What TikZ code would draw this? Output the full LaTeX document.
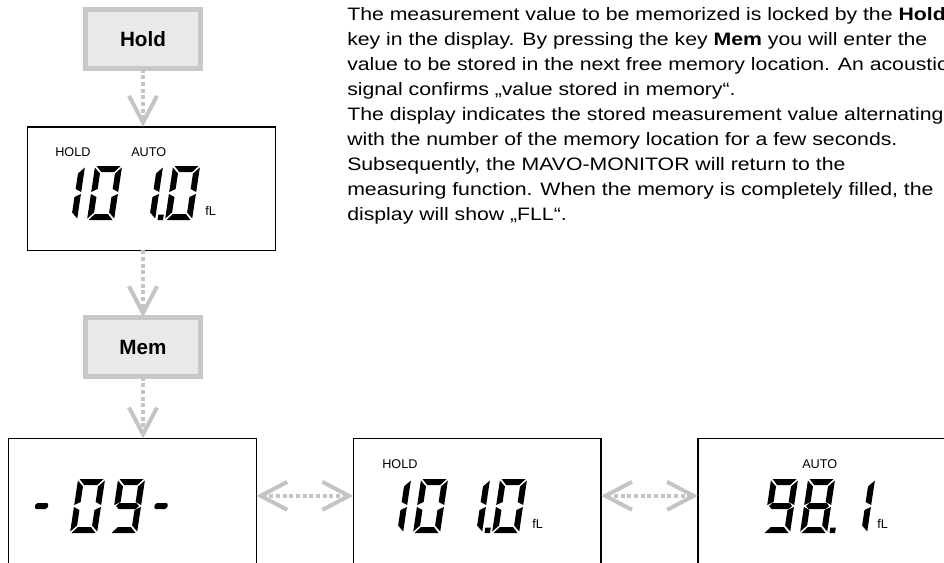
\documentclass[tikz,border=0pt]{standalone}
\usepackage{fontspec}
\setmainfont{Liberation Sans}
\newfontfamily\notefont[FakeStretch=1.18]{Liberation Sans}
\usetikzlibrary{arrows.meta,positioning}
\definecolor{keyfill}{HTML}{E9E9E9}
\definecolor{keyline}{HTML}{C8C8C8}
\definecolor{flowgray}{HTML}{C4C4C4}

\newcommand\lcdA{\fill (1.5,54) -- (25.5,54) -- (20,48) -- (7,48) -- cycle;}
\newcommand\lcdB{\fill (27,52.5) -- (21,46.5) -- (21,31) -- (27,28) -- cycle;}
\newcommand\lcdC{\fill (27,1.5) -- (21,7.5) -- (21,23) -- (27,26) -- cycle;}
\newcommand\lcdD{\fill (1.5,0) -- (25.5,0) -- (20,6) -- (7,6) -- cycle;}
\newcommand\lcdE{\fill (0,1.5) -- (6,7.5) -- (6,23) -- (0,26) -- cycle;}
\newcommand\lcdF{\fill (0,52.5) -- (6,46.5) -- (6,31) -- (0,28) -- cycle;}
\newcommand\lcdG{\fill (2,27) -- (5,30) -- (22,30) -- (25,27) -- (22,24) -- (5,24) -- cycle;}
\newcommand\lcdH{\fill[rounded corners=1.5pt] (7,24) rectangle (20,30);}
\newcommand\lcdP{\fill (29.5,0) rectangle (35,5.5);}
\newcommand\lcddigit[2]{%
  \begin{scope}[shift={#1},yscale=-1,xslant=-0.15]
    \foreach \s in {#2}{\csname lcd\s\endcsname}
  \end{scope}}

\begin{document}
\begin{tikzpicture}[x=0.75pt,y=-0.75pt,
  node distance=72.75pt,
  keybox/.style={draw=keyline,fill=keyfill,line width=3.4pt,minimum width=86.6pt,
                 minimum height=44.6pt,inner sep=0pt,outer sep=0pt,
                 font=\fontsize{15.5pt}{18pt}\selectfont\bfseries},
  lcdbox/.style={draw,line width=1pt,minimum width=185.75pt,minimum height=92.5pt,
                 inner sep=0pt,outer sep=0pt},
  lcdlbl/.style={inner sep=0pt,anchor=base west,font=\fontsize{9.5pt}{10pt}\selectfont},
  note/.style={inner sep=0pt,anchor=north west,align=left,
               font=\notefont\fontsize{13.5pt}{18.75pt}\selectfont},
  flow/.style={draw=flowgray,line width=3pt,dash pattern=on 3pt off 2pt},
  >={Straight Barb[length=20pt,width=21pt]}]
\useasboundingbox (0,0) rectangle (944,562);
\node[keybox] (hold) at (143,39) {Hold};
\node[lcdbox] (disp1) at (151.5,188.5) {};
\node[keybox] (mem) at (143,347) {Mem};
\node[lcdbox,minimum height=110pt,anchor=north] (dispA) at (132.5,438.5) {};
\node[lcdbox,minimum height=110pt,right=of dispA.north east,anchor=north west] (dispB) {};
\node[lcdbox,minimum height=110pt,right=of dispB.north east,anchor=north west] (dispC) {};
\draw[flow,->] (hold) -- (hold.south |- disp1.north);
\draw[flow,->] (disp1.south -| mem.north) -- (mem);
\draw[flow,->] (mem) -- (mem.south |- dispA.north);
\draw[flow,<->] ([yshift=-43pt]dispA.north east) -- ([yshift=-43pt]dispB.north west);
\draw[flow,<->] ([yshift=-43pt]dispB.north east) -- ([yshift=-43pt]dispC.north west);
\node[note] (text) at (347,7) {The measurement value to be memorized is locked by the \textbf{Hold}\\
  key in the display. By pressing the key \textbf{Mem} you will enter the\\
  value to be stored in the next free memory location. An acoustic\\
  signal confirms „value stored in memory“.\\
  The display indicates the stored measurement value alternating\\
  with the number of the memory location for a few seconds.\\
  Subsequently, the MAVO-MONITOR will return to the\\
  measuring function. When the memory is completely filled, the\\
  display will show „FLL“.};
\node[lcdlbl] (hold1) at (55,156) {HOLD};
\node[lcdlbl] (auto1) at (131,156) {AUTO};
\node[lcdlbl] (unit1) at (205,215) {fL};
\node[lcdlbl] (holdB) at (382,468) {HOLD};
\node[lcdlbl] (unitB) at (532,528) {fL};
\node[lcdlbl] (autoC) at (802,468) {AUTO};
\node[lcdlbl] (unitC) at (877,528) {fL};
\lcddigit{(50,220)}{B,C}
\lcddigit{(87,220)}{A,B,C,D,E,F}
\lcddigit{(128,220)}{B,C,P}
\lcddigit{(165,220)}{A,B,C,D,E,F}
\lcddigit{(24,533)}{H}
\lcddigit{(70,533)}{A,B,C,D,E,F}
\lcddigit{(110,533)}{A,B,C,D,F,G}
\lcddigit{(143.5,533)}{H}
\lcddigit{(376,533)}{B,C}
\lcddigit{(413,533)}{A,B,C,D,E,F}
\lcddigit{(455,533)}{B,C,P}
\lcddigit{(492,533)}{A,B,C,D,E,F}
\lcddigit{(763,533)}{A,B,C,D,F,G}
\lcddigit{(800,533)}{A,B,C,D,E,F,G,P}
\lcddigit{(840,533)}{B,C}
\end{tikzpicture}
\end{document}
